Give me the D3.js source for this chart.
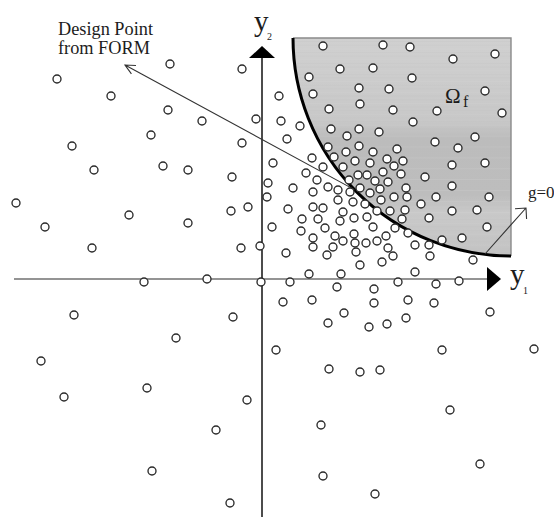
<!DOCTYPE html>
<html><head><meta charset="utf-8">
<script src="https://cdn.jsdelivr.net/npm/d3@7"></script>
<style>html,body{margin:0;padding:0;background:#fff;} svg{display:block;}</style>
</head><body>
<script>
// Monte Carlo samples in standard space (y1, y2), arbitrary units
const sampleY1 = [
 -9.2,-2.0,-20.5,-15.1,-9.4,-6.0,-11.1,-19.0,-2.0,-16.8,
 -9.9,-7.4,-3.0,-24.6,-1.4,-3.1,-21.7,-13.3,-7.4,-17.0,
 -2.1,-11.8,-5.5,-18.8,-2.9,-8.6,-22.1,-11.5,-19.8,-1.5,
 -4.6,-11.0,-3.2,-0.6,-0.2,-0.1,
 1.7,1.9,3.8,2.5,1.1,0.6,0.5,1.0,
 6.1,12.1,14.8,23.3,19.1,7.8,11.1,4.7,15.0,5.1,9.7,12.7,22.3,9.8,6.7,13.1,17.5,24.0,15.1,21.3,17.3,19.6,22.3,19.0,16.3,19.0,22.7,17.4,15.9,19.0,21.5,16.7,22.5,18.0,20.0,
 6.9,9.7,11.7,8.5,6.6,9.7,13.5,7.2,8.4,11.1,5.0,6.1,9.3,10.8,12.5,14.1,13.2,8.1,4.4,5.5,9.6,10.5,12.1,13.9,11.3,12.6,8.7,
 3.1,6.6,7.6,8.8,9.8,10.8,11.8,14.4,5.1,
 13.2,14.5,7.6,9.1,10.3,11.9,2.6,5.1,6.1,8.1,11.5,12.8,14.3,4.0,5.6,7.8,9.2,10.5,14.0,3.9,6.3,11.1,13.3,9.2,12.4,5.1,7.3,8.1,9.3,10.4,11.5,14.6,15.3,16.7,5.1,7.1,2.4,6.5,9.4,12.6,13.1,16.8,12.0,9.8,21.1,
 4.7,7.9,15.3,2.8,7.5,11.2,13.6,17.4,19.7,2.1,5.0,11.2,14.6,17.2,8.2,22.8,6.6,10.7,12.5,14.4,1.4,18.0,27.2,6.7,9.8,11.8,18.8,5.9,21.8,6.1,11.3
];
const sampleY2 = [
 21.5,21.0,20.0,18.3,16.9,15.8,14.4,13.3,13.6,10.9,
 11.3,10.9,10.2,7.6,7.2,6.8,5.2,6.4,5.6,3.1,
 3.1,-0.3,0.0,-3.6,-3.8,-5.9,-8.2,-10.9,-11.8,-12.1,
 -15.1,-19.2,-22.4,16.0,3.3,-0.3,
 18.3,15.8,15.3,14.0,11.6,9.6,8.2,5.2,
 23.3,23.4,23.2,22.5,22.0,21.0,21.1,20.2,20.1,18.5,19.1,19.0,18.8,17.5,17.0,16.9,16.8,16.6,15.7,14.2,13.7,13.1,11.6,11.4,10.2,9.3,8.2,8.2,7.5,6.8,6.9,6.1,5.2,3.9,4.1,
 15.0,15.0,14.7,14.3,13.2,13.3,13.0,12.2,12.7,12.7,12.1,11.2,11.8,11.6,12.0,11.8,11.3,11.2,10.6,9.9,10.4,10.4,10.7,10.5,9.8,9.7,9.9,
 9.1,9.2,8.9,8.7,9.1,8.6,9.0,9.1,8.7,
 8.2,8.2,7.9,7.7,7.5,7.9,7.0,7.2,7.1,6.7,6.8,6.8,6.9,6.0,6.0,5.8,6.1,6.2,6.0,4.8,5.1,5.2,5.1,4.5,4.3,4.1,4.3,3.8,3.6,3.6,3.8,4.6,3.4,3.4,3.2,3.2,2.6,2.4,2.7,3.1,2.3,2.3,1.7,1.4,1.9,
 0.5,0.5,0.7,-0.3,-0.8,-1.0,-0.3,-0.5,-0.2,-2.3,-2.1,-2.4,-2.1,-2.4,-3.4,-3.3,-4.4,-4.8,-4.5,-3.9,-7.1,-7.1,-7.0,-9.0,-9.3,-9.1,-13.1,-14.6,-18.5,-19.7,-21.5
];
// limit state g=0: circular arc centred on the corner of the failure domain
const failCorner = [24.9, 24.1];
const failRadius = 21.8;
const designLabelEnd = [-13.7, 21.4];
const gArrowFrom = [22.3, 2.5];
const gArrowTo = [26.4, 7.1];
const axisY1Range = [-24.8, 22.8];
const axisY2Range = [-23.8, 22.2];
const labels = {design: ["Design Point", "from FORM"], y1: "y", y1sub: "1", y2: "y", y2sub: "2", omega: "Ω", omegaSub: "f", g: "g=0"};

const W = 554, H = 517;
const x = d3.scaleLinear().domain([-26.2, 29.2]).range([0, W]);
const y = d3.scaleLinear().domain([27.9, -23.8]).range([0, H]);

const svg = d3.select("body").append("svg").attr("width", W).attr("height", H);
const defs = svg.append("defs");
const grad = defs.append("linearGradient").attr("id", "gf").attr("x1", 0).attr("y1", 0).attr("x2", 0).attr("y2", 1);
[[0, "#d0d0d0"], [0.38, "#c8c8c8"], [0.46, "#bcbcbc"], [0.72, "#bdbdbd"], [0.8, "#c9c9c9"], [1, "#c3c3c3"]]
  .forEach(([o, c]) => grad.append("stop").attr("offset", o).attr("stop-color", c));

const cx = x(failCorner[0]), cy = y(failCorner[1]);
const r = x(failRadius) - x(0);

// failure domain
const p = d3.path();
p.moveTo(cx - r, cy);
p.lineTo(cx, cy);
p.lineTo(cx, cy + r);
p.arc(cx, cy, r, Math.PI / 2, Math.PI, false);
p.closePath();
svg.append("path").attr("d", p.toString()).attr("fill", "url(#gf)");
const streaks = svg.append("g").attr("clip-path", "url(#clipF)");
defs.append("clipPath").attr("id", "clipF").append("path").attr("d", p.toString());
d3.range(0, 60).forEach(i => {
  const yy = cy + i * (r / 60);
  streaks.append("line").attr("x1", cx - r).attr("x2", cx).attr("y1", yy).attr("y2", yy)
    .attr("stroke", i % 3 === 0 ? "#d6d6d6" : "#c0c0c0").attr("stroke-width", 0.6).attr("opacity", 0.35);
});
svg.append("path").attr("d", `M${cx - r},${cy}L${cx},${cy}L${cx},${cy + r}`).attr("fill", "none").attr("stroke", "#8a8a8a").attr("stroke-width", 1.4);
const arcP = d3.path();
arcP.moveTo(cx, cy + r);
arcP.arc(cx, cy, r, Math.PI / 2, Math.PI, false);
svg.append("path").attr("d", arcP.toString()).attr("fill", "none").attr("stroke", "#000").attr("stroke-width", 3);

// axes
const x0 = x(0), y0 = y(0);
svg.append("line").attr("x1", x(axisY1Range[0])).attr("x2", x(axisY1Range[1])).attr("y1", y0).attr("y2", y0)
  .attr("stroke", "#707070").attr("stroke-width", 1.6);
svg.append("path").attr("d", `M${x(axisY1Range[1]) - 3},${y0 - 12}L${x(axisY1Range[1]) + 11},${y0}L${x(axisY1Range[1]) - 3},${y0 + 12}Z`).attr("fill", "#000");
svg.append("line").attr("x1", x0).attr("x2", x0).attr("y1", y(axisY2Range[0])).attr("y2", y(axisY2Range[1]))
  .attr("stroke", "#111").attr("stroke-width", 1.5);
svg.append("path").attr("d", `M${x0 - 13},${y(axisY2Range[1]) + 1}L${x0},${y(axisY2Range[1]) - 11}L${x0 + 13},${y(axisY2Range[1]) + 1}Z`).attr("fill", "#000");

// design point arrow
const dirX = x(failCorner[0]) - x0, dirY = y(failCorner[1]) - y0;
const len = Math.hypot(dirX, dirY);
const dpx = cx - r * dirX / len, dpy = cy - r * dirY / len;
const tx = x(designLabelEnd[0]), ty = y(designLabelEnd[1]);
function arrow(x1, y1, x2, y2, arm, ang) {
  const a = Math.atan2(y1 - y2, x1 - x2);
  svg.append("path")
    .attr("d", `M${x1},${y1}L${x2},${y2}M${x2 + arm * Math.cos(a + ang)},${y2 + arm * Math.sin(a + ang)}L${x2},${y2}L${x2 + arm * Math.cos(a - ang)},${y2 + arm * Math.sin(a - ang)}`)
    .attr("fill", "none").attr("stroke", "#333").attr("stroke-width", 1.1);
}
arrow(dpx, dpy, tx, ty, 11, 0.45);
arrow(x(gArrowFrom[0]), y(gArrowFrom[1]), x(gArrowTo[0]), y(gArrowTo[1]), 11, 0.78);

// samples
const pts = sampleY1.map((v, i) => [v, sampleY2[i]]);
svg.append("g").selectAll("circle").data(pts).join("circle")
  .attr("cx", d => x(d[0])).attr("cy", d => y(d[1])).attr("r", 4)
  .attr("fill", "#fff").attr("stroke", "#2a2a2a").attr("stroke-width", 1.35);

// text
const serif = "'Liberation Serif','DejaVu Serif',serif";
const t = svg.append("g").attr("font-family", serif).attr("fill", "#1c1c1c");
t.append("text").attr("x", 58).attr("y", 35).attr("font-size", 18.3).text(labels.design[0]);
t.append("text").attr("x", 58).attr("y", 54).attr("font-size", 18.3).text(labels.design[1]);
t.append("text").attr("x", x0 - 8).attr("y", 31).attr("font-size", 29).text(labels.y2);
t.append("text").attr("x", x0 + 5).attr("y", 40).attr("font-size", 10).text(labels.y2sub);
t.append("text").attr("x", 510).attr("y", 284).attr("font-size", 29).text(labels.y1);
t.append("text").attr("x", 523).attr("y", 294).attr("font-size", 10).text(labels.y1sub);
t.append("text").attr("x", 445).attr("y", 103).attr("font-size", 21).text(labels.omega);
t.append("text").attr("x", 463).attr("y", 107).attr("font-size", 16).text(labels.omegaSub);
t.append("text").attr("x", 528).attr("y", 198).attr("font-size", 17).text(labels.g);
</script>
</body></html>
